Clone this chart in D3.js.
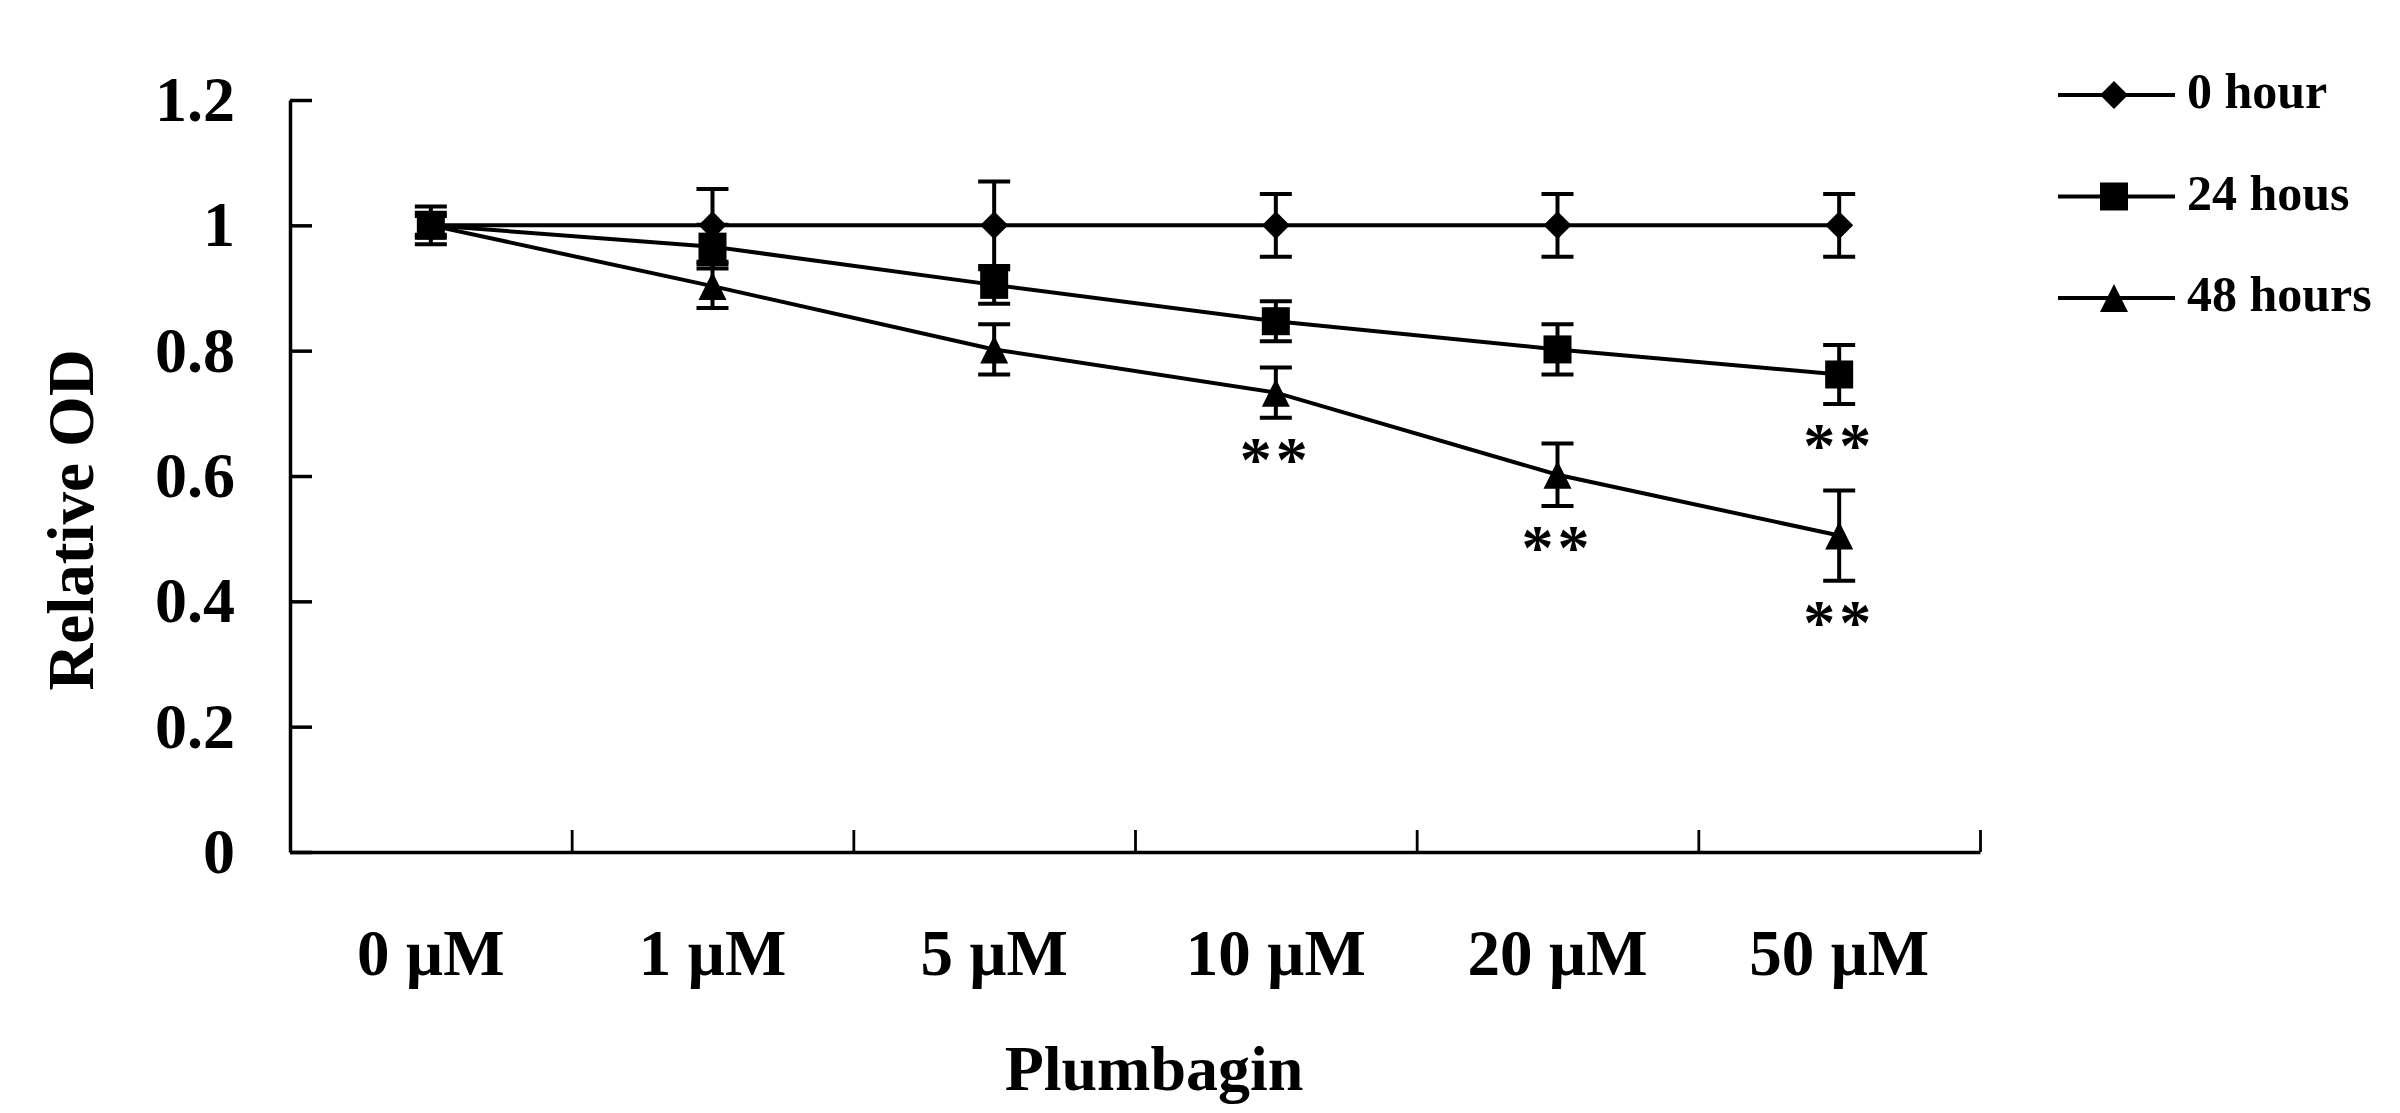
<!DOCTYPE html>
<html>
<head>
<meta charset="utf-8">
<script src="https://cdn.jsdelivr.net/npm/d3@7"></script>
<style>
  body { margin: 0; background: #fff; }
  text { font-family: "Liberation Serif", "Times New Roman", serif; font-weight: bold; fill: #000; }
</style>
</head>
<body>
<div id="chart"></div>
<script>
// chart data
var categories = ["0 \u00b5M", "1 \u00b5M", "5 \u00b5M", "10 \u00b5M", "20 \u00b5M", "50 \u00b5M"];
var seriesNames = ["0 hour", "24 hous", "48 hours"];

var hour0 = [1, 1, 1, 1, 1, 1];
var hour0Err = [0.03, 0.058, 0.07, 0.05, 0.05, 0.05];

var hour24 = [1, 0.966, 0.905, 0.847, 0.802, 0.762];
var hour24Err = [0.02, 0.035, 0.03, 0.032, 0.04, 0.047];

var hour48 = [1, 0.903, 0.802, 0.733, 0.602, 0.505];
var hour48Err = [0.015, 0.035, 0.04, 0.04, 0.05, 0.072];

// significance marks (**)
var hour0Sig = [false, false, false, false, false, false];
var hour24Sig = [false, false, false, false, false, true];
var hour48Sig = [false, false, false, true, true, true];

var yTicks = [0, 0.2, 0.4, 0.6, 0.8, 1, 1.2];

var width = 2400, height = 1113;
var plotLeft = 290, plotRight = 1980, plotTop = 100, plotBottom = 852;

// custom marker shapes, size = edge length squared
var diamond = {
  draw: function(ctx, size) {
    var r = Math.sqrt(size) / 2;
    ctx.moveTo(0, -r); ctx.lineTo(r, 0); ctx.lineTo(0, r); ctx.lineTo(-r, 0); ctx.closePath();
  }
};
var square = {
  draw: function(ctx, size) {
    var r = Math.sqrt(size) / 2;
    ctx.rect(-r, -r, 2 * r, 2 * r);
  }
};
var triangle = {
  draw: function(ctx, size) {
    var r = Math.sqrt(size) / 2;
    ctx.moveTo(0, -r); ctx.lineTo(r, r); ctx.lineTo(-r, r); ctx.closePath();
  }
};

var series = [
  { name: seriesNames[0], values: hour0, err: hour0Err, sig: hour0Sig, shape: diamond },
  { name: seriesNames[1], values: hour24, err: hour24Err, sig: hour24Sig, shape: square },
  { name: seriesNames[2], values: hour48, err: hour48Err, sig: hour48Sig, shape: triangle }
];

var svg = d3.select("#chart")
  .append("svg")
  .attr("width", width)
  .attr("height", height);

var x = d3.scaleBand().domain(categories).range([plotLeft, plotRight]).padding(0);
var xEdge = d3.scaleLinear().domain([0, categories.length]).range([plotLeft, plotRight]);
var y = d3.scaleLinear().domain([0, 1.2]).range([plotBottom, plotTop]);

var cx = function(i) { return x(categories[i]) + x.bandwidth() / 2; };

// y axis, ticks pointing inward
var yAxis = svg.append("g")
  .attr("transform", "translate(" + plotLeft + ",0)")
  .call(d3.axisLeft(y).tickValues(yTicks).tickSize(-22).tickSizeOuter(0).tickPadding(55)
    .tickFormat(function(d) { return String(+d.toFixed(1)); }));
yAxis.select(".domain").attr("stroke-width", 3.5);
yAxis.selectAll(".tick line").attr("stroke-width", 3.5);
yAxis.selectAll("text").attr("font-size", 64).attr("font-family", null);

// x axis line with ticks between categories
var xAxis = svg.append("g")
  .attr("transform", "translate(0," + plotBottom + ")")
  .call(d3.axisBottom(xEdge).tickValues(d3.range(1, categories.length + 1)).tickSize(-22).tickSizeOuter(0).tickFormat(""));
xAxis.select(".domain").attr("stroke-width", 3.5);
xAxis.selectAll(".tick line").attr("stroke-width", 2.8);

// category labels
var xLabels = svg.append("g")
  .attr("transform", "translate(0," + plotBottom + ")")
  .call(d3.axisBottom(x).tickSize(0).tickPadding(77));
xLabels.select(".domain").remove();
xLabels.selectAll("text").attr("font-size", 65).attr("font-family", null);

// axis titles
svg.append("text")
  .attr("x", 1154)
  .attr("y", 1090)
  .attr("text-anchor", "middle")
  .attr("font-size", 64)
  .text("Plumbagin");

svg.append("text")
  .attr("transform", "translate(93,520) rotate(-90)")
  .attr("text-anchor", "middle")
  .attr("font-size", 65)
  .text("Relative OD");

var line = d3.line()
  .x(function(d, i) { return cx(i); })
  .y(function(d) { return y(d); });

series.forEach(function(s) {
  var g = svg.append("g");
  var pts = s.values.map(function(v, i) {
    return { i: i, v: v, e: s.err[i], sig: s.sig[i] };
  });

  g.append("path")
    .attr("d", line(s.values))
    .attr("fill", "none")
    .attr("stroke", "#000")
    .attr("stroke-width", 4);

  // error bars
  var bars = g.selectAll(".err")
    .data(pts)
    .enter()
    .append("g")
    .attr("stroke", "#000")
    .attr("stroke-width", 4);

  bars.append("line")
    .attr("x1", function(d) { return cx(d.i); })
    .attr("x2", function(d) { return cx(d.i); })
    .attr("y1", function(d) { return y(d.v + d.e); })
    .attr("y2", function(d) { return y(d.v - d.e); });

  [1, -1].forEach(function(sign) {
    bars.append("line")
      .attr("x1", function(d) { return cx(d.i) - 16; })
      .attr("x2", function(d) { return cx(d.i) + 16; })
      .attr("y1", function(d) { return y(d.v + sign * d.e); })
      .attr("y2", function(d) { return y(d.v + sign * d.e); });
  });

  g.selectAll(".marker")
    .data(pts)
    .enter()
    .append("path")
    .attr("d", d3.symbol().type(s.shape).size(28 * 28))
    .attr("transform", function(d) { return "translate(" + cx(d.i) + "," + y(d.v) + ")"; })
    .attr("fill", "#000");

  g.selectAll(".sig")
    .data(pts.filter(function(d) { return d.sig; }))
    .enter()
    .append("text")
    .attr("x", function(d) { return cx(d.i); })
    .attr("y", function(d) { return y(d.v - d.e) + 63; })
    .attr("text-anchor", "middle")
    .attr("font-size", 64)
    .attr("font-weight", "normal")
    .attr("letter-spacing", 4)
    .text("**");
});

// legend
var legend = svg.append("g")
  .selectAll("g")
  .data(series)
  .enter()
  .append("g")
  .attr("transform", function(d, i) { return "translate(0," + (95 + i * 101.5) + ")"; });

legend.append("line")
  .attr("x1", 2058)
  .attr("x2", 2175)
  .attr("stroke", "#000")
  .attr("stroke-width", 4);

legend.append("path")
  .attr("d", function(d) { return d3.symbol().type(d.shape).size(28 * 28)(); })
  .attr("transform", "translate(2114,0)")
  .attr("fill", "#000");

legend.append("text")
  .attr("x", 2187)
  .attr("y", 13)
  .attr("font-size", 50)
  .text(function(d) { return d.name; });
</script>
</body>
</html>
